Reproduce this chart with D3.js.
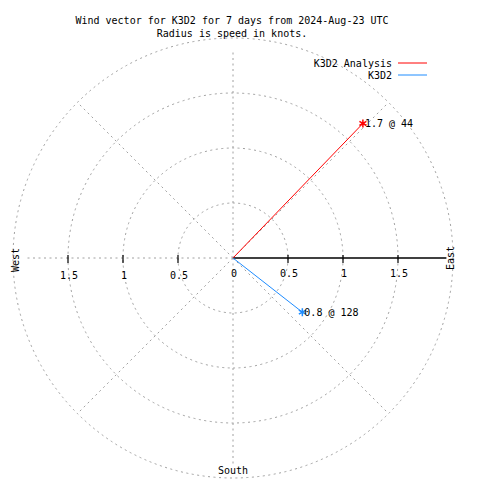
<!DOCTYPE html>
<html><head><meta charset="utf-8">
<script src="https://cdn.jsdelivr.net/npm/d3@7"></script>
<style>body{margin:0;background:#fff}svg{display:block}text{font-family:"DejaVu Sans Mono",monospace;font-size:10px;fill:#000}</style>
</head><body><svg id="c" width="480" height="480"></svg>
<script>
const titleLines = ["Wind vector for K3D2 for 7 days from 2024-Aug-23 UTC", "Radius is speed in knots."];
const seriesNames = ["K3D2 Analysis", "K3D2"];
const seriesColors = ["#ff0000", "#1e8cff"];
const speeds = [1.7, 0.8];
const directions = [44, 128];
const ringValues = [0.5, 1, 1.5, 2];
const tickValues = [0.5, 1, 1.5];
const tickLabels = ["0.5", "1", "1.5"];

const svg = d3.select("#c");
const cx = 233, cy = 258;
const r = d3.scaleLinear().domain([0, 2]).range([0, 220]);
const gray = "#a0a0a0";
const dash = "2,3.5";

const pt = (s, d) => {
  const a = d * Math.PI / 180;
  return [cx + r(s) * Math.sin(a), cy - r(s) * Math.cos(a)];
};

// rings
svg.selectAll("circle.ring").data(ringValues).join("circle")
  .attr("cx", cx).attr("cy", cy).attr("r", d => r(d))
  .attr("fill", "none").attr("stroke", gray).attr("stroke-dasharray", dash);

// diagonals
[45, 135, 225, 315].forEach(d => {
  const p = pt(2, d);
  svg.append("line").attr("x1", cx).attr("y1", cy).attr("x2", p[0]).attr("y2", p[1])
    .attr("stroke", gray).attr("stroke-dasharray", dash);
});
// N, S, W dashed axes
[0, 180, 270].forEach(d => {
  const p = pt(1.89, d);
  svg.append("line").attr("x1", cx).attr("y1", cy).attr("x2", p[0]).attr("y2", p[1])
    .attr("stroke", gray).attr("stroke-dasharray", dash);
});
// East solid axis
svg.append("line").attr("x1", cx).attr("y1", cy).attr("x2", cx + r(1.94)).attr("y2", cy)
  .attr("stroke", "#000").attr("stroke-width", 1.5);

// ticks both sides
tickValues.forEach(v => {
  [1, -1].forEach(sg => {
    svg.append("line").attr("x1", cx + sg * r(v)).attr("x2", cx + sg * r(v))
      .attr("y1", cy - 3).attr("y2", cy + 5).attr("stroke", "#000").attr("stroke-width", 1.2);
  });
});

// tick labels
svg.append("text").attr("x", cx + 1).attr("y", 277).attr("text-anchor", "middle").text("0");
tickValues.forEach((v, i) => {
  svg.append("text").attr("x", cx - r(v) + 1).attr("y", 279).attr("text-anchor", "middle").text(tickLabels[i]);
  svg.append("text").attr("x", cx + r(v) + 1).attr("y", 277).attr("text-anchor", "middle").text(tickLabels[i]);
});

// compass labels
svg.append("text").attr("transform", "translate(19,260) rotate(-90)").attr("text-anchor", "middle").text("West");
svg.append("text").attr("transform", "translate(454,258) rotate(-90)").attr("text-anchor", "middle").text("East");
svg.append("text").attr("x", cx).attr("y", 474).attr("text-anchor", "middle").text("South");

// vectors
speeds.forEach((s, i) => {
  const p = pt(s, directions[i]);
  svg.append("line").attr("x1", cx).attr("y1", cy).attr("x2", p[0]).attr("y2", p[1])
    .attr("stroke", seriesColors[i]).attr("stroke-width", 1);
  svg.append("path").attr("d", d3.symbol(d3.symbolAsterisk, 45)())
    .attr("transform", `translate(${p[0]},${p[1]})`)
    .attr("stroke", seriesColors[i]).attr("stroke-width", 1.5).attr("fill", "none");
  svg.append("text").attr("x", p[0] + 2).attr("y", p[1] + 3.5).text(`${s} @ ${directions[i]}`);
});

// title
titleLines.forEach((t, i) => {
  svg.append("text").attr("x", 232).attr("y", 24 + i * 13).attr("text-anchor", "middle").text(t);
});

// legend
seriesNames.forEach((n, i) => {
  const y = 63 + i * 12;
  svg.append("text").attr("x", 392).attr("y", y + 3.5).attr("text-anchor", "end").text(n);
  svg.append("line").attr("x1", 398).attr("x2", 427).attr("y1", y).attr("y2", y)
    .attr("stroke", seriesColors[i]).attr("stroke-width", 1);
});
</script></body></html>
